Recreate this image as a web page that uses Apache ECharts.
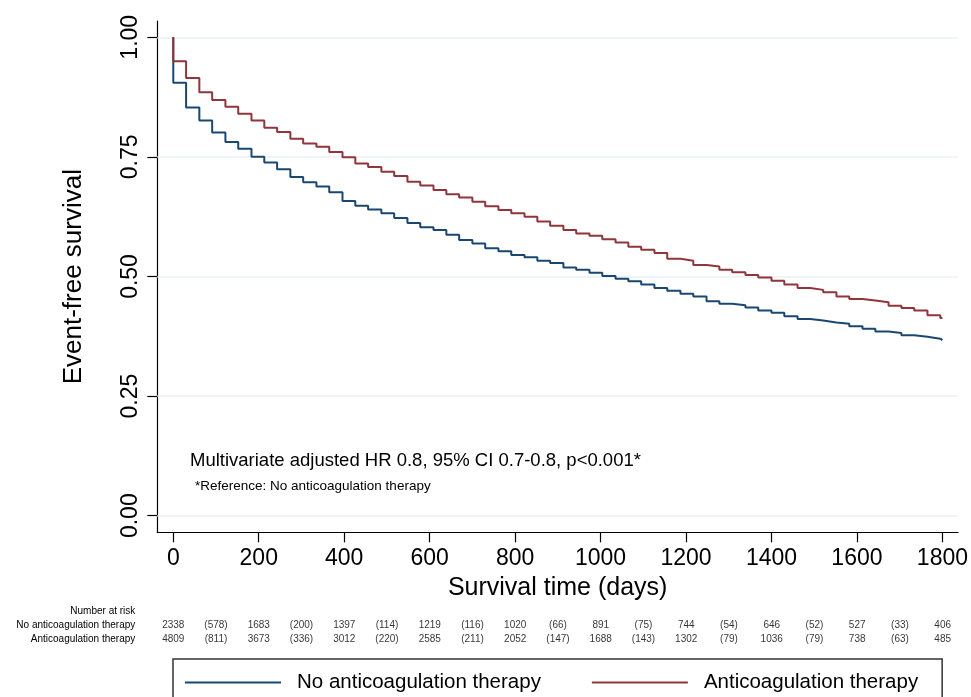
<!DOCTYPE html>
<html>
<head>
<meta charset="utf-8">
<script src="https://cdn.jsdelivr.net/npm/echarts@6/dist/echarts.min.js"></script>
<style>
  html, body { margin: 0; padding: 0; background: #fff; }
  #chart { width: 971px; height: 697px; }
</style>
</head>
<body>
<div id="chart"></div>
<script>
// survival time (days) at each step of the KM curves
const days = [0, 0, 30, 61, 91, 122, 152, 183, 213, 243, 274, 304, 335, 365, 396, 426, 456, 487, 517, 548, 578,
  609, 639, 669, 700, 730, 761, 791, 822, 852, 882, 913, 943, 974, 1004, 1035, 1065, 1095, 1126, 1156, 1187,
  1217, 1248, 1278, 1308, 1339, 1369, 1400, 1430, 1461, 1491, 1521, 1552, 1582, 1613, 1643, 1674, 1704, 1734,
  1765, 1795, 1800];

const noAnticoag = [1.00, 0.905, 0.853, 0.826, 0.801, 0.781, 0.767, 0.750, 0.738, 0.724, 0.708,
  0.697, 0.688, 0.676, 0.658, 0.648, 0.640, 0.632, 0.622, 0.612, 0.603,
  0.597, 0.587, 0.576, 0.569, 0.559, 0.553, 0.545, 0.540, 0.533, 0.528,
  0.519, 0.514, 0.508, 0.501, 0.495, 0.490, 0.483, 0.476, 0.470, 0.464,
  0.458, 0.448, 0.443, 0.440, 0.435, 0.429, 0.424, 0.417, 0.411, 0.408,
  0.404, 0.401, 0.396, 0.391, 0.385, 0.382, 0.377, 0.374, 0.370, 0.367, 0.367];

const anticoag = [1.00, 0.950, 0.915, 0.885, 0.869, 0.855, 0.840, 0.826, 0.811, 0.802, 0.788,
  0.778, 0.771, 0.760, 0.749, 0.736, 0.729, 0.719, 0.710, 0.698, 0.690,
  0.681, 0.672, 0.665, 0.656, 0.647, 0.639, 0.632, 0.625, 0.615, 0.606,
  0.597, 0.590, 0.585, 0.578, 0.571, 0.562, 0.556, 0.549, 0.537, 0.533,
  0.524, 0.521, 0.514, 0.509, 0.503, 0.498, 0.491, 0.483, 0.476, 0.472,
  0.467, 0.458, 0.453, 0.450, 0.446, 0.439, 0.434, 0.429, 0.419, 0.413, 0.413];

const xTicks = [0, 200, 400, 600, 800, 1000, 1200, 1400, 1600, 1800];
const yTicks = [0, 0.25, 0.5, 0.75, 1];

// number at risk table
const rowNames = ["Number at risk", "No anticoagulation therapy", "Anticoagulation therapy"];
const riskDays = [0, 200, 400, 600, 800, 1000, 1200, 1400, 1600, 1800];
const censorDays = [100, 300, 500, 700, 900, 1100, 1300, 1500, 1700];
const riskNo = [2338, 1683, 1397, 1219, 1020, 891, 744, 646, 527, 406];
const censorNo = [578, 200, 114, 116, 66, 75, 54, 52, 33];
const riskYes = [4809, 3673, 3012, 2585, 2052, 1688, 1302, 1036, 738, 485];
const censorYes = [811, 336, 220, 211, 147, 143, 79, 79, 63];

const FONT = "'Liberation Sans', Arial, Helvetica, sans-serif";
const BLUE = "#1a476f";
const RED = "#90353b";

const pair = (xs, ys) => xs.map((x, i) => [x, ys[i]]);

function tableRow(row, at, atDays, cens, censDays) {
  const out = at.map((v, i) => [atDays[i], row, String(v)]);
  cens.forEach((v, i) => out.push([censDays[i], row, "(" + v + ")"]));
  return out;
}

const chart = echarts.init(document.getElementById("chart"));

const option = {
  backgroundColor: "#fff",
  animation: false,
  textStyle: { fontFamily: FONT, color: "#000" },
  grid: [
    { left: 157.3, top: 21, width: 801, height: 511.3 },
    { left: 157.3, top: 604.7, width: 801, height: 42 },
  ],
  xAxis: [
    {
      type: "value",
      gridIndex: 0,
      min: -37.4,
      max: 1836.5,
      name: "Survival time (days)",
      nameLocation: "middle",
      nameGap: 42,
      nameTextStyle: { fontSize: 25, color: "#000", fontFamily: FONT },
      axisLine: { onZero: false, lineStyle: { color: "#000", width: 1.2 } },
      axisTick: { length: 10, customValues: xTicks, lineStyle: { color: "#000", width: 1.2 } },
      axisLabel: {
        customValues: xTicks,
        fontSize: 23,
        color: "#000",
        margin: 15,
        fontFamily: FONT,
        formatter: (v) => String(v),
      },
      splitLine: { show: false },
    },
    {
      type: "value",
      gridIndex: 1,
      min: -37.4,
      max: 1836.5,
      show: false,
    },
  ],
  yAxis: [
    {
      type: "value",
      gridIndex: 0,
      min: -0.0347,
      max: 1.034,
      name: "Event-free survival",
      nameLocation: "middle",
      nameGap: 70,
      nameTextStyle: { fontSize: 26, color: "#000", fontFamily: FONT },
      axisLine: { show: true, onZero: false, lineStyle: { color: "#000", width: 1.2 } },
      axisTick: { show: true, length: 10, customValues: yTicks, lineStyle: { color: "#000", width: 1.2 } },
      axisLabel: {
        customValues: yTicks,
        rotate: 90,
        fontSize: 23,
        color: "#000",
        margin: 15,
        fontFamily: FONT,
        formatter: (v) => v.toFixed(2),
      },
      splitLine: { show: false },
    },
    {
      type: "category",
      gridIndex: 1,
      inverse: true,
      data: rowNames,
      axisLine: { show: false },
      axisTick: { show: false },
      splitLine: { show: false },
      axisLabel: { fontSize: 10, color: "#000", margin: 22, fontFamily: FONT },
    },
  ],
  legend: {
    data: ["No anticoagulation therapy", "Anticoagulation therapy"],
    left: 173,
    top: 659,
    orient: "horizontal",
    icon: "rect",
    itemWidth: 96,
    itemHeight: 2,
    itemGap: 51,
    padding: [13, 24, 40, 12],
    borderColor: "#333",
    borderWidth: 1.5,
    borderRadius: 0,
    textStyle: { fontSize: 20.5, color: "#000", fontFamily: FONT, padding: [0, 0, 0, 11] },
  },
  graphic: [
    {
      type: "text",
      left: 190,
      top: 451,
      style: { text: "Multivariate adjusted HR 0.8, 95% CI 0.7-0.8, p<0.001*", fontSize: 18.5, fill: "#000", fontFamily: FONT },
    },
    {
      type: "text",
      left: 195,
      top: 479,
      style: { text: "*Reference: No anticoagulation therapy", fontSize: 13.5, fill: "#000", fontFamily: FONT },
    },
  ],
  series: [
    {
      // light horizontal gridlines
      type: "line",
      xAxisIndex: 0,
      yAxisIndex: 0,
      data: [],
      z: 1,
      silent: true,
      markLine: {
        z: 1,
        silent: true,
        symbol: ["none", "none"],
        label: { show: false },
        lineStyle: { color: "#eaf2f3", width: 1.5, type: "solid" },
        data: yTicks.map((v) => ({ yAxis: v })),
      },
    },
    {
      name: "No anticoagulation therapy",
      type: "line",
      xAxisIndex: 0,
      yAxisIndex: 0,
      step: "end",
      showSymbol: false,
      symbol: "none",
      z: 3,
      color: BLUE,
      lineStyle: { color: BLUE, width: 2 },
      data: pair(days, noAnticoag),
    },
    {
      name: "Anticoagulation therapy",
      type: "line",
      xAxisIndex: 0,
      yAxisIndex: 0,
      step: "end",
      showSymbol: false,
      symbol: "none",
      z: 4,
      color: RED,
      lineStyle: { color: RED, width: 2 },
      data: pair(days, anticoag),
    },
    {
      type: "scatter",
      xAxisIndex: 1,
      yAxisIndex: 1,
      symbolSize: 1,
      silent: true,
      itemStyle: { color: "rgba(0,0,0,0)" },
      label: {
        show: true,
        position: "inside",
        fontSize: 10,
        color: "#000",
        fontFamily: FONT,
        formatter: (p) => p.value[2],
      },
      data: tableRow(rowNames[1], riskNo, riskDays, censorNo, censorDays)
        .concat(tableRow(rowNames[2], riskYes, riskDays, censorYes, censorDays)),
    },
  ],
};

chart.setOption(option);
window.addEventListener("resize", chart.resize);
</script>
</body>
</html>
